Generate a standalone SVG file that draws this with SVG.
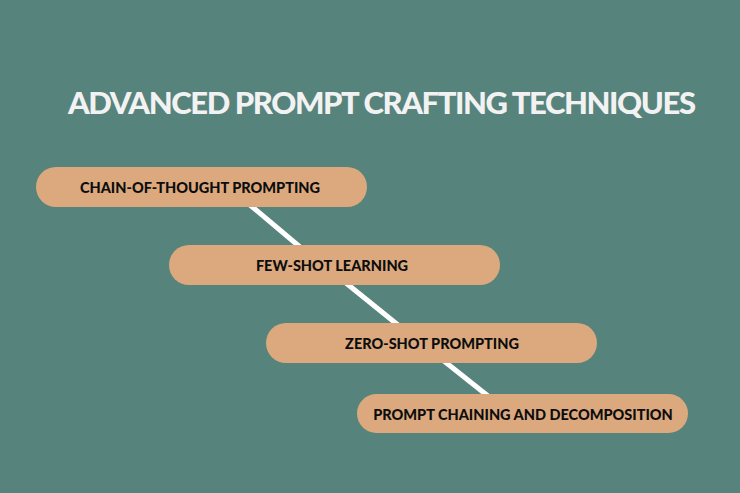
<svg xmlns="http://www.w3.org/2000/svg" width="740" height="493" viewBox="0 0 740 493">
<style>
.pill{fill:#DCA97E}
.lbl{font-family:Lato,"Liberation Sans",sans-serif;font-weight:900;font-size:14.5px;fill:#0d0d0d;text-anchor:middle}
.title{font-family:Lato,"Liberation Sans",sans-serif;font-weight:900;font-size:31px;letter-spacing:-1.4px;fill:#F2F2F2}
.conn{stroke:#FFFFFF;stroke-width:5;fill:none}
</style>
<rect width="740" height="493" fill="#57837D"/>
<text class="title" x="68" y="114">ADVANCED PROMPT CRAFTING TECHNIQUES</text>
<g id="connectors">
<line class="conn" x1="250" y1="205" x2="300" y2="247"/>
<line class="conn" x1="346" y1="283" x2="398" y2="325"/>
<line class="conn" x1="444" y1="361" x2="488" y2="396"/>
</g>
<g id="node1">
<rect class="pill" x="36" y="167" width="331" height="40" rx="20"/>
<text class="lbl" x="200" y="192.5">CHAIN-OF-THOUGHT PROMPTING</text>
</g>
<g id="node2">
<rect class="pill" x="169" y="245" width="331" height="40" rx="20"/>
<text class="lbl" x="332" y="270.5">FEW-SHOT LEARNING</text>
</g>
<g id="node3">
<rect class="pill" x="266" y="323" width="331" height="40" rx="20"/>
<text class="lbl" x="432" y="348.5">ZERO-SHOT PROMPTING</text>
</g>
<g id="node4">
<rect class="pill" x="357" y="394" width="331" height="39" rx="19.5"/>
<text class="lbl" x="523" y="419.5">PROMPT CHAINING AND DECOMPOSITION</text>
</g>
</svg>
